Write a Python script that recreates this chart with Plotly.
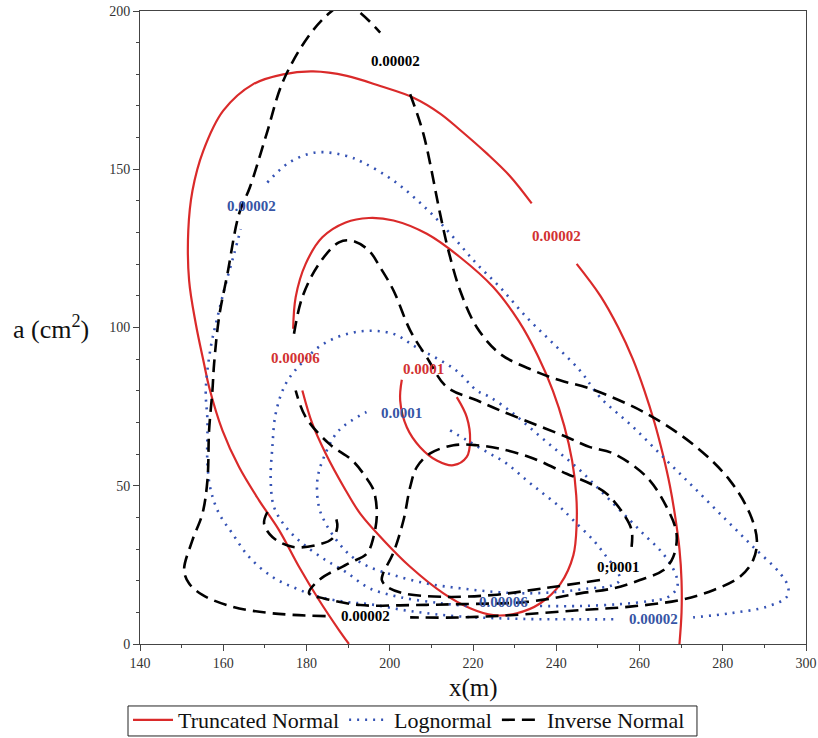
import plotly.graph_objects as go

# ---------------- Truncated Normal (solid red) ----------------
tn_00002_left_x = [190.2, 187.8, 183.0, 178.2, 173.4, 168.6, 163.8, 159.8, 156.6, 155.4, 153.4, 151.8,
                   151.6, 152.6, 155.2, 160.0, 167.2, 174.4, 181.6, 189.7, 197.7, 205.7, 212.1, 216.9,
                   223.3, 228.9, 234.1]
tn_00002_left_a = [0.0, 4.4, 13.9, 24.4, 36.0, 45.4, 55.9, 67.5, 81.2, 88.5, 101.2, 114.8,
                   130.6, 143.2, 155.8, 168.5, 176.9, 180.0, 180.9, 179.5, 176.3, 172.6, 167.6, 162.4,
                   155.0, 147.8, 139.2]
tn_00002_right_x = [244.9, 250.6, 254.9, 258.4, 261.2, 263.6, 265.6, 267.3, 268.6, 269.6, 270.1, 270.1, 269.6]
tn_00002_right_a = [120.1, 110.0, 100.0, 90.0, 80.0, 70.0, 60.0, 50.0, 40.0, 30.0, 20.0, 10.0, 0.0]

tn_00006_x = [176.8, 177.4, 179.8, 183.8, 189.4, 195.0, 200.9, 208.9, 216.9, 224.9, 231.0, 235.6,
              239.2, 241.9, 243.8, 244.8, 244.9, 244.1, 241.0, 236.1, 230.5, 224.9, 219.3, 212.9,
              204.9, 198.5, 192.9, 189.4, 184.6, 181.4, 179.0]
tn_00006_a = [99.6, 109.6, 120.1, 128.5, 133.2, 134.6, 133.8, 129.6, 122.2, 112.7, 102.0, 91.0,
              80.0, 69.0, 58.0, 47.0, 38.0, 28.0, 19.0, 12.8, 9.7, 9.1, 11.3, 16.0,
              24.4, 32.8, 41.2, 48.6, 60.2, 69.6, 80.1]

tn_0001_x = [202.9, 202.5, 204.1, 207.3, 211.3, 215.3, 218.5, 219.3, 218.5, 216.1]
tn_0001_a = [83.5, 77.0, 68.5, 62.2, 58.0, 56.5, 59.1, 64.4, 71.7, 78.0]

# ---------------- Lognormal (dotted blue) ----------------
ln_00002_top_x = [170.6, 175.8, 182.2, 189.4, 193.6, 200.9, 208.9, 215.3, 220.9, 226.5, 232.9, 239.3,
                  245.7, 250.5, 258.5, 266.5, 273.7, 280.9, 287.3, 293.8, 295.7, 295.4, 290.6, 281.7,
                  272.9]
ln_00002_top_a = [145.8, 152.1, 155.3, 154.3, 152.1, 146.4, 137.4, 128.5, 120.1, 112.7, 103.2, 94.9,
                  86.4, 78.0, 68.5, 58.0, 48.6, 39.1, 30.7, 22.3, 18.1, 14.9, 11.8, 9.7,
                  8.4]
ln_00002_low_x = [253.7, 245.7, 233.0, 216.9, 204.9, 195.0, 189.4, 183.0, 177.4, 171.8, 166.2, 162.2,
                  159.0, 157.0, 156.2, 156.2, 155.8, 157.0, 158.6, 160.6, 162.6, 164.2]
ln_00002_low_a = [7.8, 7.8, 7.9, 8.7, 10.4, 12.6, 13.3, 14.9, 17.6, 21.2, 27.5, 34.9,
                  41.2, 48.6, 57.0, 70.7, 80.1, 93.8, 103.2, 113.8, 123.2, 131.1]

ln_00006_x = [236.1, 245.7, 255.3, 262.5, 266.8, 269.0, 268.9, 267.3, 264.9, 261.7, 257.7, 250.5,
              245.7, 240.9, 235.3, 229.7, 224.1, 220.9, 215.9, 206.2, 200.6, 192.5, 184.4, 178.8,
              175.0, 172.6, 171.8, 171.4, 172.2, 175.0, 179.0, 184.6, 189.4, 195.0, 202.5, 212.1,
              219.3]
ln_00006_a = [12.0, 12.0, 12.6, 13.6, 14.8, 17.7, 21.2, 25.5, 29.7, 33.8, 39.1, 48.6,
              54.9, 60.3, 66.5, 72.8, 78.0, 80.1, 86.5, 93.9, 98.1, 98.7, 95.1, 88.7,
              82.2, 72.8, 62.2, 51.7, 43.3, 37.0, 31.8, 26.5, 22.8, 17.7, 14.8, 12.9,
              11.9]

ln_0001_x = [214.5, 218.5, 223.3, 228.1, 232.9, 236.9, 240.9, 244.1, 248.9, 252.1, 254.5, 255.3,
             252.9, 248.1, 240.9, 232.9, 224.9, 216.9, 208.9, 200.8, 195.0, 191.0, 187.8, 184.6,
             183.0, 182.6, 184.2, 187.8, 194.4]
ln_0001_a = [67.5, 64.4, 60.7, 57.0, 51.7, 47.5, 43.3, 39.1, 32.8, 27.5, 23.3, 20.2,
             18.3, 17.6, 16.5, 16.0, 16.5, 17.6, 19.1, 21.8, 24.4, 27.5, 31.8, 38.1,
             43.3, 51.7, 59.1, 67.5, 73.3]

# ---------------- Inverse Normal (dashed black) ----------------
in_00002_main_x = [204.9, 208.1, 212.1, 214.1, 216.9, 220.9, 226.5, 234.5, 240.9, 248.1, 261.7, 273.7,
                   281.7, 286.5, 288.2, 287.3, 284.1, 277.7, 269.7, 257.7, 245.7, 228.9, 216.9, 204.9]
in_00002_main_a = [173.7, 161.1, 135.9, 124.3, 111.7, 100.1, 91.7, 86.4, 83.3, 80.7, 72.8, 62.2,
                   51.7, 41.2, 32.8, 26.5, 21.2, 17.0, 13.9, 11.8, 10.7, 9.1, 8.4, 8.4]
in_00002_left_x = [184.6, 171.8, 162.2, 155.0, 151.8, 150.6, 152.6, 155.0, 156.2, 156.6, 157.4, 157.8,
                   159.0, 161.0, 163.8, 166.4, 170.4, 174.4, 180.8, 186.1, 189.2, 192.4, 197.7]
in_00002_left_a = [8.8, 9.7, 11.8, 15.5, 19.1, 23.3, 32.8, 41.2, 51.7, 67.5, 80.1, 88.5,
                   103.3, 116.9, 135.9, 144.3, 161.1, 177.9, 192.6, 200.0, 202.2, 200.0, 193.2]

in_00006_x = [177.0, 179.0, 183.0, 187.8, 191.0, 195.0, 197.7, 200.9, 204.9, 208.9, 213.7, 220.9,
              226.5, 234.5, 242.5, 248.1, 253.7, 261.7, 266.5, 268.9, 268.1, 265.7, 260.1, 253.7,
              245.7, 232.9, 216.9, 204.9, 192.9, 184.2, 180.6, 183.0, 190.2, 194.5, 196.1, 196.9,
              196.1, 194.2, 191.0, 185.4, 179.8, 177.4]
in_00006_a = [98.0, 109.6, 120.1, 126.9, 127.4, 124.3, 119.0, 111.7, 99.1, 90.6, 81.2, 77.0,
              73.8, 69.6, 65.4, 62.2, 60.2, 52.8, 43.3, 34.9, 27.5, 23.3, 20.2, 17.6,
              16.0, 13.3, 12.6, 12.3, 12.3, 14.4, 16.0, 20.2, 25.5, 28.6, 33.8, 41.2,
              48.6, 52.8, 58.0, 63.3, 71.7, 80.1]

in_0001_x = [250.5, 236.9, 224.9, 212.9, 203.3, 199.3, 198.1, 198.4, 200.8, 203.3, 204.9, 206.5,
             209.7, 215.3, 220.9, 226.5, 234.5, 242.5, 248.1, 252.1, 256.1, 258.1, 258.1]
in_0001_a = [20.2, 17.6, 15.5, 14.9, 16.0, 18.1, 20.2, 22.3, 28.6, 39.1, 49.6, 55.9,
             60.2, 62.8, 62.8, 61.7, 58.6, 53.8, 50.7, 47.5, 41.2, 36.0, 30.7]

in_0001_island_x = [170.6, 169.8, 171.8, 176.6, 182.2, 186.2, 187.4, 187.0]
in_0001_island_a = [41.7, 38.1, 33.8, 30.7, 31.2, 33.3, 37.0, 40.2]

# ---------------- contour level labels ----------------
label_text = ["0.00002", "0.00006", "0.0001",
              "0.00002", "0.0001", "0.00006", "0.00002",
              "0.00002", "0.00002", "0;0001"]
label_x = [240.1, 177.4, 208.1,
           166.8, 202.9, 227.3, 263.3,
           201.3, 194.1, 254.9]
label_a = [129.0, 90.3, 87.0,
           138.5, 73.0, 13.3, 7.8,
           184.2, 8.8, 24.4]
label_family = ["tn", "tn", "tn", "ln", "ln", "ln", "ln", "in", "in", "in"]

RED = "rgb(218,42,42)"
BLUE = "rgb(52,82,180)"
BLACK = "rgb(0,0,0)"
label_colors = {"tn": "rgb(210,50,50)", "ln": "rgb(55,85,165)", "in": "rgb(0,0,0)"}

styles = {
    "tn": dict(name="Truncated Normal", line=dict(color=RED, width=2.2)),
    "ln": dict(name="Lognormal", line=dict(color=BLUE, width=2.6, dash="2px,6px")),
    "in": dict(name="Inverse Normal", line=dict(color=BLACK, width=2.6, dash="13px,7px")),
}

curves = [
    ("tn", tn_00002_left_x, tn_00002_left_a),
    ("tn", tn_00002_right_x, tn_00002_right_a),
    ("tn", tn_00006_x, tn_00006_a),
    ("tn", tn_0001_x, tn_0001_a),
    ("ln", ln_00002_top_x, ln_00002_top_a),
    ("ln", ln_00002_low_x, ln_00002_low_a),
    ("ln", ln_00006_x, ln_00006_a),
    ("ln", ln_0001_x, ln_0001_a),
    ("in", in_00002_main_x, in_00002_main_a),
    ("in", in_00002_left_x, in_00002_left_a),
    ("in", in_00006_x, in_00006_a),
    ("in", in_0001_x, in_0001_a),
    ("in", in_0001_island_x, in_0001_island_a),
]

fig = go.Figure()
shown = set()
for fam, xs, ys in curves:
    st = styles[fam]
    fig.add_trace(go.Scatter(
        x=xs, y=ys, mode="lines",
        name=st["name"], legendgroup=fam,
        showlegend=fam not in shown,
        line=dict(shape="spline", smoothing=1.0, **st["line"]),
        hoverinfo="skip",
    ))
    shown.add(fam)

for t, x, a, fam in zip(label_text, label_x, label_a, label_family):
    fig.add_annotation(x=x, y=a, text="<b>%s</b>" % t, showarrow=False,
                       font=dict(family="Liberation Serif", size=15, color=label_colors[fam]))

# axis titles
fig.add_annotation(xref="paper", yref="paper", x=0.5, y=-0.069, text="x(m)", showarrow=False,
                   xanchor="center", yanchor="middle",
                   font=dict(family="Liberation Serif", size=25, color="#111"))
fig.add_annotation(xref="paper", yref="paper", x=-0.134, y=0.50, text="a (cm<sup>2</sup>)",
                   showarrow=False, xanchor="center", yanchor="middle",
                   font=dict(family="Liberation Serif", size=26, color="#111"))

# thin frame around the legend row
fig.add_shape(type="rect", xref="paper", yref="paper",
              x0=-0.018, x1=0.8363, y0=-0.1453, y1=-0.0979,
              line=dict(color="#222", width=1), fillcolor="rgba(0,0,0,0)", layer="below")

axis_common = dict(showgrid=False, zeroline=False, showline=True, linecolor="#444", linewidth=1,
                   mirror=True, ticks="outside", ticklen=6, tickcolor="#444", automargin=False,
                   tickfont=dict(family="Liberation Serif", size=14, color="#333"))

fig.update_xaxes(range=[140, 300], dtick=20, tick0=140,
                 minor=dict(dtick=10, ticklen=3, ticks="outside", tickcolor="#444"),
                 **axis_common)
fig.update_yaxes(range=[0, 200], dtick=50, tick0=0,
                 minor=dict(dtick=10, ticklen=3, ticks="outside", tickcolor="#444"),
                 **axis_common)

fig.update_layout(
    width=818, height=738,
    margin=dict(l=140, r=12, t=11, b=94, autoexpand=False),
    plot_bgcolor="white", paper_bgcolor="white",
    font=dict(family="Liberation Serif", color="#111"),
    legend=dict(orientation="h", x=-0.018, y=-0.0869, xanchor="left", yanchor="top",
                borderwidth=0, bgcolor="rgba(0,0,0,0)",
                font=dict(family="Liberation Serif", size=22, color="#111"),
                itemwidth=40, tracegroupgap=0),
    showlegend=True,
)

fig.write_html("out.html")
